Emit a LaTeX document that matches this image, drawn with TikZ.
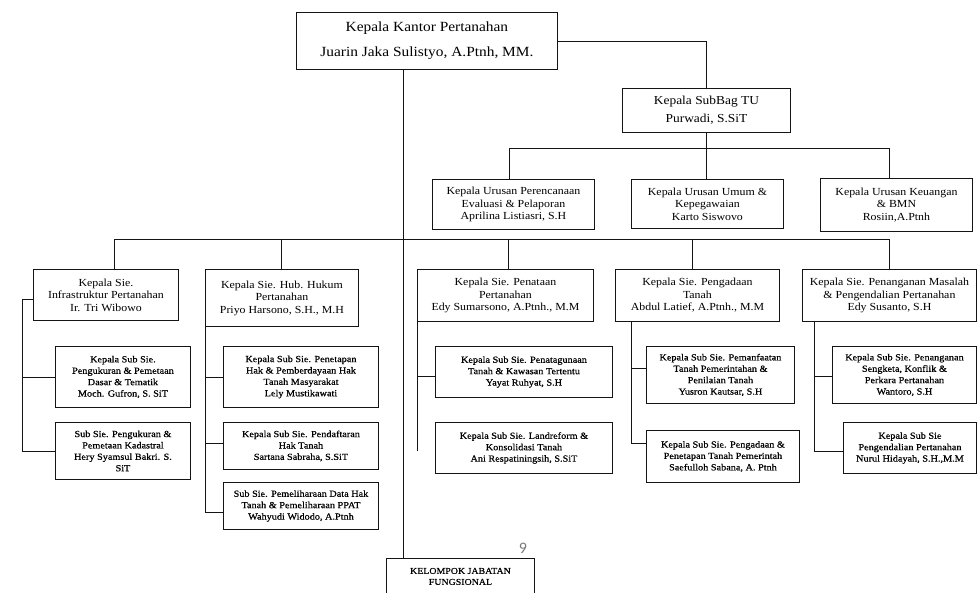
\documentclass[tikz,border=0pt]{standalone}
\usepackage{fontspec}
\setmainfont[FakeStretch=1.1]{Liberation Serif}
\newfontfamily\subfont[FakeStretch=1.1, FakeBold=0.6]{Liberation Serif}
\newfontfamily\pagenumfont{Carlito}
\newcommand\fsz[2]{\fontsize{#1}{#2}\selectfont}
\definecolor{inkline}{RGB}{20,20,20}
\definecolor{pagegray}{RGB}{120,120,120}
\tikzset{
  box/.style={draw=inkline, line width=0.9pt, inner sep=0pt, align=center, anchor=north west},
  wh/.style 2 args={minimum width=#1, minimum height=#2},
  conn/.style={draw=inkline, line width=0.9pt},
  ftop/.style={font=\fsz{14}{25}},
  fsubbag/.style={font=\fsz{12.2}{18}},
  fhead/.style={font=\fsz{10.8}{12.5}},
  fsub/.style={font=\subfont\fsz{9.3}{11.4}},
}
\begin{document}
\begin{tikzpicture}[x=1pt, y=-1pt]
\useasboundingbox (0,0) rectangle (977,592);

% head of office and administration
\node[box, ftop, wh={261pt}{57pt}] (top) at (296,12) {Kepala Kantor Pertanahan\\Juarin Jaka Sulistyo, A.Ptnh, MM.};
\node[box, fsubbag, wh={168pt}{44pt}] (tu) at (622,88) {Kepala SubBag TU\\Purwadi, S.SiT};

\node[box, fhead, wh={162pt}{50pt}] (u1) at (432,179) {Kepala Urusan Perencanaan\\Evaluasi \& Pelaporan\\Aprilina Listiasri, S.H};
\node[box, fhead, wh={152pt}{49pt}] (u2) at (631,179) {Kepala Urusan Umum \&\\Kepegawaian\\Karto Siswovo};
\node[box, fhead, wh={152pt}{53pt}] (u3) at (820,178) {Kepala Urusan Keuangan\\\& BMN\\Rosiin,A.Ptnh};

% sections
\node[box, fhead, wh={145pt}{51pt}] (infra) at (33,269) {Kepala Sie.\\Infrastruktur Pertanahan\\Ir. Tri Wibowo};
\node[box, fhead, wh={153pt}{57pt}] (hub) at (205,269) {Kepala Sie. Hub. Hukum\\Pertanahan\\Priyo Harsono, S.H., M.H};
\node[box, fhead, wh={176pt}{52pt}] (pnt) at (417,269) {Kepala Sie. Penataan\\Pertanahan\\Edy Sumarsono, A.Ptnh., M.M};
\node[box, fhead, wh={164pt}{52pt}] (pgd) at (615,269) {Kepala Sie. Pengadaan\\Tanah\\Abdul Latief, A.Ptnh., M.M};
\node[box, fhead, wh={174pt}{52pt}] (pnm) at (802,269) {Kepala Sie. Penanganan Masalah\\\& Pengendalian Pertanahan\\Edy Susanto, S.H};

% sub-sections
\node[box, fsub, wh={135pt}{61pt}] (is1) at (55,346) {Kepala Sub Sie.\\Pengukuran \& Pemetaan\\Dasar \& Tematik\\Moch. Gufron, S. SiT};
\node[box, fsub, wh={135pt}{57pt}] (is2) at (55,422) {Sub Sie. Pengukuran \&\\Pemetaan Kadastral\\Hery Syamsul Bakri. S.\\SiT};

\node[box, fsub, wh={155pt}{61pt}] (hs1) at (223,346) {Kepala Sub Sie. Penetapan\\Hak \& Pemberdayaan Hak\\Tanah Masyarakat\\Lely Mustikawati};
\node[box, fsub, wh={155pt}{47pt}] (hs2) at (223,422) {Kepala Sub Sie. Pendaftaran\\Hak Tanah\\Sartana Sabraha, S.SiT};
\node[box, fsub, wh={155pt}{47pt}] (hs3) at (223,482) {Sub Sie. Pemeliharaan Data Hak\\Tanah \& Pemeliharaan PPAT\\Wahyudi Widodo, A.Ptnh};

\node[box, fsub, wh={177pt}{51pt}] (ps1) at (435,346) {Kepala Sub Sie. Penatagunaan\\Tanah \& Kawasan Tertentu\\Yayat Ruhyat, S.H};
\node[box, fsub, wh={177pt}{51pt}] (ps2) at (435,422) {Kepala Sub Sie. Landreform \&\\Konsolidasi Tanah\\Ani Respatiningsih, S.SiT};

\node[box, fsub, wh={148pt}{57pt}] (gs1) at (646,346) {Kepala Sub Sie. Pemanfaatan\\Tanah Pemerintahan \&\\Penilaian Tanah\\Yusron Kautsar, S.H};
\node[box, fsub, wh={153pt}{52pt}] (gs2) at (646,430) {Kepala Sub Sie. Pengadaan \&\\Penetapan Tanah Pemerintah\\Saefulloh Sabana, A. Ptnh};

\node[box, fsub, wh={144pt}{57pt}] (ns1) at (832,346) {Kepala Sub Sie. Penanganan\\Sengketa, Konflik \&\\Perkara Pertanahan\\Wantoro, S.H};
\node[box, fsub, wh={133pt}{51pt}] (ns2) at (843,422) {Kepala Sub Sie\\Pengendalian Pertanahan\\Nurul Hidayah, S.H.,M.M};

% functional group
\node[box, font=\subfont\fsz{9}{11}, wh={148pt}{36pt}] (kel) at (386,558) {KELOMPOK JABATAN\\FUNGSIONAL};

% page number
\node[font=\pagenumfont\fsz{16}{16}, text=pagegray] (pg) at (523,548) {9};

% top-level connectors
\draw[conn] (top.east) -| (tu.north);
\coordinate (uL) at (509,148);
\coordinate (uR) at (889,148);
\draw[conn] (uL) -- (uR);
\draw[conn] (tu.south) -- (tu.south |- u2.north);
\draw[conn] (uL) -- (uL |- u1.north);
\draw[conn] (uR) -- (uR |- u3.north);

\coordinate (trunk) at (403,69);
\draw[conn] (top.south -| trunk) -- (kel.north -| trunk);

\coordinate (bL) at (114,239);
\coordinate (bR) at (889,239);
\coordinate (d2) at (281,239);
\coordinate (d3) at (508,239);
\coordinate (d4) at (692,239);
\draw[conn] (bL) -- (bR);
\draw[conn] (bL) -- (bL |- infra.north);
\draw[conn] (d2) -- (d2 |- hub.north);
\draw[conn] (d3) -- (d3 |- pnt.north);
\draw[conn] (d4) -- (d4 |- pgd.north);
\draw[conn] (bR) -- (bR |- pnm.north);

% infrastructure branch
\coordinate (iA) at (22,299);
\draw[conn] (infra.west |- iA) -- (iA) |- (is2.west);
\draw[conn] (iA |- is1.west) -- (is1.west);

% legal relations branch
\coordinate (hE) at (205,512);
\draw[conn] (hub.south west) -- (hE) -- (hE -| hs3.west);
\draw[conn] (hub.south west |- hs1.west) -- (hs1.west);
\coordinate (hB) at (205,443);
\draw[conn] (hB) -- (hB -| hs2.west);

% land arrangement branch
\coordinate (pE) at (417,451);
\coordinate (pB) at (417,376);
\draw[conn] (pnt.south west) -- (pE);
\draw[conn] (pB) -- (pB -| ps1.west);

% land acquisition branch
\coordinate (gA) at (631,368);
\coordinate (gE) at (631,443);
\draw[conn] (gA |- pgd.south) -- (gE) -- (gE -| gs2.west);
\draw[conn] (gA) -- (gA -| gs1.west);

% dispute handling branch
\coordinate (nA) at (814,376);
\coordinate (nE) at (814,451);
\draw[conn] (nA |- pnm.south) -- (nE) -- (nE -| ns2.west);
\draw[conn] (nA) -- (nA -| ns1.west);
\end{tikzpicture}
\end{document}
